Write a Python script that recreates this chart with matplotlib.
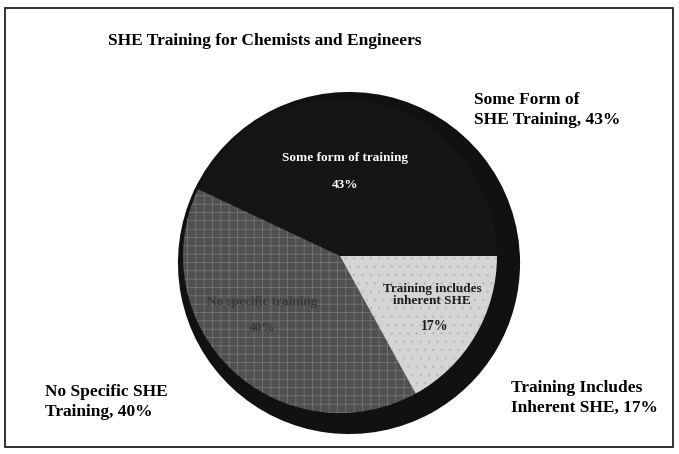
import matplotlib.pyplot as plt
from matplotlib.patches import Rectangle

# slice data
CATEGORIES = ["Some form of training", "No specific training", "Training includes\ninherent SHE"]
SHARES = [43, 40, 17]
OUTER_LABELS = ["Some Form of\nSHE Training, 43%", "No Specific SHE\nTraining, 40%",
                "Training Includes\nInherent SHE, 17%"]
TITLE = "SHE Training for Chemists and Engineers"

SLICE_COLORS = ["#151515", "#505050", "#d4d4d4"]
INNER_TEXT_COLORS = ["white", "#383838", "#1c1c1c"]

plt.rcParams["font.family"] = ["Liberation Serif", "DejaVu Serif"]
plt.rcParams["hatch.linewidth"] = 0.5

W, H = 679, 454
fig = plt.figure(figsize=(W / 100, H / 100), dpi=100)
fig.patch.set_facecolor("white")
ax = fig.add_axes([0, 0, 1, 1])

# dark rim / shadow behind the pie
ax.pie(SHARES, colors=["#111111"] * 3, radius=170, center=(349, H - 263),
       startangle=0, counterclock=True,
       wedgeprops=dict(linewidth=1.5, edgecolor="#111111"))

wedges, _ = ax.pie(SHARES, colors=SLICE_COLORS, radius=157, center=(340, H - 256),
                   startangle=0, counterclock=True,
                   wedgeprops=dict(linewidth=0))
wedges[1].set_hatch("++")
wedges[1].set_edgecolor("#7a7a7a")
wedges[1].set_linewidth(0)
wedges[2].set_hatch("..")
wedges[2].set_edgecolor("#b8b8b8")
wedges[2].set_linewidth(0)

ax.set_xlim(0, W)
ax.set_ylim(0, H)
ax.set_aspect("equal")
ax.axis("off")

# inner labels
ax.text(345, H - 158, CATEGORIES[0], ha="center", va="center", fontsize=9.5,
        fontweight="bold", color=INNER_TEXT_COLORS[0])
ax.text(345, H - 185, f"{SHARES[0]}%", ha="center", va="center", fontsize=9.5,
        fontweight="bold", color=INNER_TEXT_COLORS[0])
ax.text(262, H - 302, CATEGORIES[1], ha="center", va="center", fontsize=9.5,
        fontweight="bold", color=INNER_TEXT_COLORS[1])
ax.text(262, H - 328, f"{SHARES[1]}%", ha="center", va="center", fontsize=9.5,
        fontweight="bold", color=INNER_TEXT_COLORS[1])
ax.text(432, H - 295, CATEGORIES[2], ha="center", va="center", fontsize=9.5,
        fontweight="bold", color=INNER_TEXT_COLORS[2], linespacing=1.05)
ax.text(435, H - 326, f"{SHARES[2]}%", ha="center", va="center", fontsize=10,
        fontweight="bold", color=INNER_TEXT_COLORS[2])

# outer labels
ax.text(474, H - 110, OUTER_LABELS[0], ha="left", va="center", fontsize=12.5,
        fontweight="bold", linespacing=1.35)
ax.text(45, H - 402, OUTER_LABELS[1], ha="left", va="center", fontsize=12.5,
        fontweight="bold", linespacing=1.35)
ax.text(511, H - 398, OUTER_LABELS[2], ha="left", va="center", fontsize=12.5,
        fontweight="bold", linespacing=1.35)

ax.text(265, H - 41, TITLE, ha="center", va="center", fontsize=12.5, fontweight="bold")

# frame around chart
fig.patches.append(Rectangle((5 / W, 7 / H), 668 / W, 439 / H, transform=fig.transFigure,
                             fill=False, edgecolor="#222222", linewidth=1.3))

fig.savefig("out.png", dpi=100)
